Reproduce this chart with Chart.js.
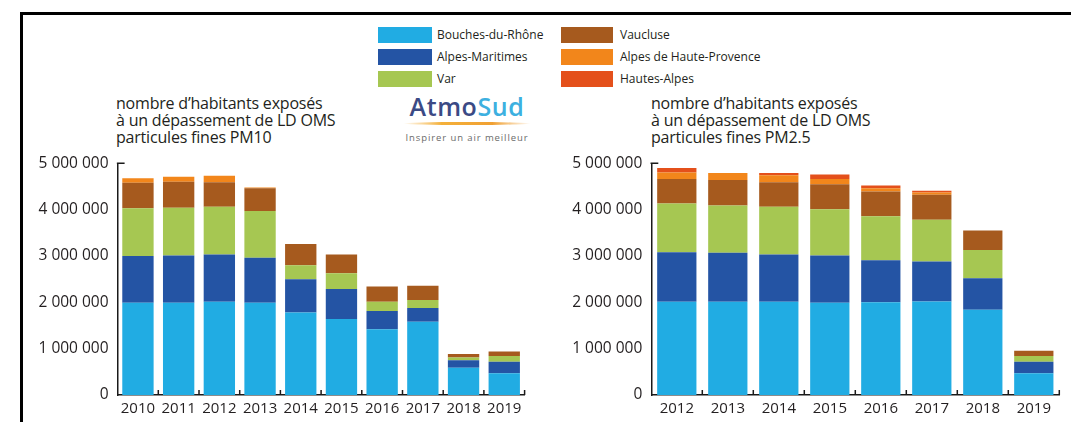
<!DOCTYPE html>
<html lang="fr">
<head>
<meta charset="utf-8">
<script src="https://cdn.jsdelivr.net/npm/chart.js@4.4.1/dist/chart.umd.min.js"></script>
<style>
  html, body { margin: 0; padding: 0; background: #fff; }
  body { width: 1071px; height: 422px; position: relative; overflow: hidden;
         font-family: "Open Sans", sans-serif; color: #231f20; }
  #frame { position: absolute; left: 20px; top: 12px; width: 1060px; height: 420px;
           border-left: 3px solid #000; border-top: 3px solid #000; }
  canvas { position: absolute; }
  .title { position: absolute; top: 95px; font-size: 16px; line-height: 17px; white-space: nowrap; letter-spacing: -0.2px; }
  .legend-box { position: absolute; height: 16px; }
  .legend-text { position: absolute; font-size: 12px; line-height: 16px; white-space: nowrap; }
  #logo { position: absolute; left: 398px; top: 91px; width: 138px; text-align: center; }
  #logo .name { font-size: 25px; font-weight: 600; letter-spacing: 0.6px; line-height: 30px; }
  #logo .atmo { color: #3b4a85; }
  #logo .sud { color: #3db0e0; }
  #logo .swoosh { margin: 1px auto 0; width: 128px; height: 3px; border-radius: 50%;
                  background: linear-gradient(to right, rgba(245,180,60,0), #f4b03a 30%, #f0a032 70%, rgba(240,160,50,0)); }
  #logo .motto { margin-top: 6px; font-size: 9.5px; letter-spacing: 0.9px; color: #6b6b6b; }
</style>
</head>
<body>
<div id="frame"></div>

<div class="title" style="left:116px">nombre d’habitants exposés<br>à un dépassement de LD OMS<br>particules fines PM10</div>
<div class="title" style="left:651px">nombre d’habitants exposés<br>à un dépassement de LD OMS<br>particules fines PM2.5</div>

<div id="logo">
  <div class="name"><span class="atmo">Atmo</span><span class="sud">Sud</span></div>
  <div class="swoosh"></div>
  <div class="motto">Inspirer un air meilleur</div>
</div>

<div id="legend"></div>

<canvas id="pm10" width="510" height="277" style="left:20px; top:145px"></canvas>
<canvas id="pm25" width="520" height="277" style="left:545px; top:145px"></canvas>

<script>
// Départements (stack order, bottom to top) and their colours
const departements = ['Bouches-du-Rhône', 'Alpes-Maritimes', 'Var', 'Vaucluse', 'Alpes de Haute-Provence', 'Hautes-Alpes'];
const couleurs = ['#21ace3', '#2454a4', '#a6c752', '#a65a1e', '#f2861b', '#e4501b'];

// PM10 : habitants exposés par département
const anneesPM10 = ['2010', '2011', '2012', '2013', '2014', '2015', '2016', '2017', '2018', '2019'];
const pm10BouchesDuRhone = [1990000, 1990000, 2010000, 1990000, 1780000, 1640000, 1420000, 1580000, 590000, 470000];
const pm10AlpesMaritimes = [1010000, 1020000, 1020000, 970000, 720000, 650000, 390000, 300000, 160000, 250000];
const pm10Var = [1030000, 1030000, 1030000, 1010000, 300000, 340000, 200000, 170000, 60000, 120000];
const pm10Vaucluse = [550000, 560000, 530000, 490000, 460000, 400000, 330000, 310000, 75000, 100000];
const pm10AlpesHauteProvence = [100000, 110000, 140000, 20000, 0, 0, 0, 0, 0, 0];
const pm10HautesAlpes = [0, 0, 0, 0, 0, 0, 0, 0, 0, 0];

// PM2.5 : habitants exposés par département
const anneesPM25 = ['2012', '2013', '2014', '2015', '2016', '2017', '2018', '2019'];
const pm25BouchesDuRhone = [2010000, 2010000, 2010000, 1990000, 2000000, 2020000, 1840000, 470000];
const pm25AlpesMaritimes = [1070000, 1060000, 1020000, 1020000, 910000, 860000, 680000, 250000];
const pm25Var = [1050000, 1020000, 1030000, 1000000, 950000, 900000, 610000, 120000];
const pm25Vaucluse = [530000, 550000, 530000, 540000, 530000, 540000, 420000, 115000];
const pm25AlpesHauteProvence = [140000, 150000, 150000, 110000, 70000, 50000, 0, 0];
const pm25HautesAlpes = [100000, 0, 50000, 100000, 60000, 40000, 0, 0];

// Y-axis ticks
const yTicks = [0, 1000000, 2000000, 3000000, 4000000, 5000000];

const formatNombre = v => String(v).replace(/\B(?=(\d{3})+(?!\d))/g, ' ');

// HTML legend in two columns of three
(function buildLegend() {
  const legend = document.getElementById('legend');
  const cols = [{ box: 378, boxW: 54, text: 437 }, { box: 561, boxW: 52, text: 620 }];
  const rows = [27, 49, 71];
  departements.forEach((nom, i) => {
    const c = cols[Math.floor(i / 3)], r = rows[i % 3];
    const b = document.createElement('div');
    b.className = 'legend-box';
    b.style.cssText = `left:${c.box}px; top:${r}px; width:${c.boxW}px; background:${couleurs[i]}`;
    const t = document.createElement('div');
    t.className = 'legend-text';
    t.style.cssText = `left:${c.text}px; top:${r}px`;
    t.textContent = nom;
    legend.appendChild(b);
    legend.appendChild(t);
  });
})();

// Inward category ticks on the x axis and the short stub at the top of the y axis
const axisMarks = {
  id: 'axisMarks',
  afterDraw(chart) {
    const { ctx, scales: { x, y } } = chart;
    const n = chart.data.labels.length;
    ctx.save();
    ctx.strokeStyle = '#1a1a1a';
    ctx.lineWidth = 1.5;
    ctx.beginPath();
    for (let i = 1; i <= n; i++) {
      const px = i < n ? (x.getPixelForValue(i - 1) + x.getPixelForValue(i)) / 2 : x.right;
      ctx.moveTo(px, x.top);
      ctx.lineTo(px, x.top - 5);
    }
    const yt = y.getPixelForValue(y.max);
    ctx.moveTo(y.right - 0.75, yt);
    ctx.lineTo(y.right + 7, yt);
    ctx.stroke();
    ctx.restore();
  }
};

function makeChart(id, labels, series, yWidth, padRight) {
  const datasets = series.map((data, i) => ({
    label: departements[i],
    data,
    backgroundColor: couleurs[i],
    borderWidth: 0,
    barPercentage: 0.77,
    categoryPercentage: 1.0
  }));
  return new Chart(document.getElementById(id), {
    type: 'bar',
    data: { labels, datasets },
    options: {
      responsive: false,
      animation: false,
      devicePixelRatio: 1,
      layout: { padding: { top: 11, right: padRight, left: 0, bottom: 0 } },
      plugins: { legend: { display: false }, tooltip: { enabled: false } },
      scales: {
        x: {
          stacked: true,
          grid: { display: false, drawTicks: false },
          border: { display: true, color: '#1a1a1a', width: 1.5 },
          ticks: { color: '#231f20', font: { family: 'Open Sans', size: 15 }, padding: 5, maxRotation: 0 },
          afterFit: s => { s.height = 27; }
        },
        y: {
          stacked: true,
          min: 0,
          max: 5000000,
          afterBuildTicks: s => { s.ticks = yTicks.map(v => ({ value: v })); },
          grid: { display: false, drawTicks: false },
          border: { display: true, color: '#1a1a1a', width: 1.5 },
          ticks: { color: '#231f20', font: { family: 'Open Sans', size: 15.5 }, padding: 9,
                   callback: v => formatNombre(v) },
          afterFit: s => { s.width = yWidth; }
        }
      }
    },
    plugins: [axisMarks]
  });
}

makeChart('pm10', anneesPM10,
  [pm10BouchesDuRhone, pm10AlpesMaritimes, pm10Var, pm10Vaucluse, pm10AlpesHauteProvence, pm10HautesAlpes],
  97.6, 5.4);
makeChart('pm25', anneesPM25,
  [pm25BouchesDuRhone, pm25AlpesMaritimes, pm25Var, pm25Vaucluse, pm25AlpesHauteProvence, pm25HautesAlpes],
  106.3, 5.7);
</script>
</body>
</html>
